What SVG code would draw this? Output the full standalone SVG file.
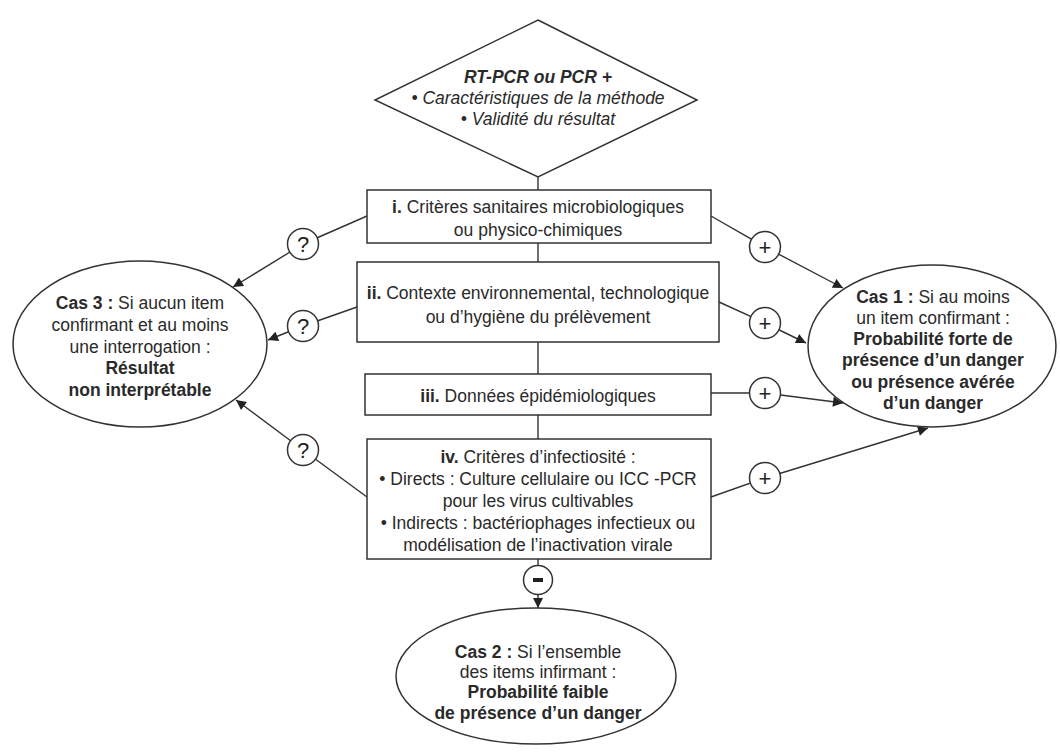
<svg xmlns="http://www.w3.org/2000/svg" width="1060" height="756" viewBox="0 0 1060 756">
<defs>
<marker id="arr" viewBox="0 0 10 10" refX="10" refY="5" markerWidth="11" markerHeight="10" markerUnits="userSpaceOnUse" orient="auto">
<path d="M0,0 L10,5 L0,10 z" fill="#222"/>
</marker>
<style>
.s{fill:#fff;stroke:#333;stroke-width:1.5}
.c{fill:none;stroke:#333;stroke-width:1.4}
.a{fill:none;stroke:#333;stroke-width:1.4;marker-end:url(#arr)}
text{font-family:"Liberation Sans",Arial,sans-serif;font-size:17.5px;fill:#2a2a2a;text-anchor:middle}
.b{font-weight:bold}
.i{font-style:italic}
.sym{font-size:22px;fill:#222}
</style>
</defs>
<rect width="1060" height="756" fill="#fff"/>
<g id="connectors">
<line class="c" x1="538" y1="177" x2="538" y2="190"/>
<line class="c" x1="538" y1="243" x2="538" y2="262"/>
<line class="c" x1="538" y1="342" x2="538" y2="374"/>
<line class="c" x1="538" y1="415" x2="538" y2="439"/>
<line class="c" x1="367" y1="216" x2="303" y2="244"/>
<line class="a" x1="303" y1="244" x2="233" y2="287"/>
<line class="c" x1="357" y1="307" x2="303" y2="326"/>
<line class="a" x1="303" y1="326" x2="268" y2="340"/>
<line class="c" x1="367" y1="497" x2="303" y2="450"/>
<line class="a" x1="303" y1="450" x2="236" y2="400"/>
<line class="c" x1="711" y1="216" x2="765" y2="247"/>
<line class="a" x1="765" y1="247" x2="843" y2="288"/>
<line class="c" x1="719" y1="302" x2="765" y2="323"/>
<line class="a" x1="765" y1="323" x2="806" y2="343"/>
<line class="c" x1="711" y1="393" x2="765" y2="393"/>
<line class="a" x1="765" y1="393" x2="843" y2="403"/>
<line class="c" x1="711" y1="497" x2="765" y2="478"/>
<line class="a" x1="765" y1="478" x2="928" y2="428"/>
<line class="a" x1="538" y1="559" x2="538" y2="608"/>
<g id="labels">
<circle class="s" cx="303" cy="244" r="15.5"/><text class="sym" x="303" y="252">?</text>
<circle class="s" cx="303" cy="326" r="15.5"/><text class="sym" x="303" y="334">?</text>
<circle class="s" cx="303" cy="450" r="15.5"/><text class="sym" x="303" y="458">?</text>
<circle class="s" cx="765" cy="247" r="15.5"/><text class="sym" x="765" y="255">+</text>
<circle class="s" cx="765" cy="323" r="15.5"/><text class="sym" x="765" y="331">+</text>
<circle class="s" cx="765" cy="393" r="15.5"/><text class="sym" x="765" y="401">+</text>
<circle class="s" cx="765" cy="478" r="15.5"/><text class="sym" x="765" y="486">+</text>
<circle class="s" cx="538" cy="580" r="14.5"/><rect x="533" y="578" width="10" height="4" fill="#222"/>
</g>
</g>
<g id="start">
<polygon class="s" points="538,20 697,100 538,177 375,100"/>
<text class="b i" x="538" y="83">RT-PCR ou PCR +</text>
<text class="i" x="538" y="104">• Caractéristiques de la méthode</text>
<text class="i" x="538" y="125">• Validité du résultat</text>
</g>
<g id="crit1">
<rect class="s" x="367" y="190" width="344" height="53"/>
<text x="538" y="213"><tspan class="b">i.</tspan> Critères sanitaires microbiologiques</text>
<text x="538" y="236">ou physico-chimiques</text>
</g>
<g id="crit2">
<rect class="s" x="357" y="262" width="362" height="80"/>
<text x="538" y="299"><tspan class="b">ii.</tspan> Contexte environnemental, technologique</text>
<text x="538" y="323">ou d’hygiène du prélèvement</text>
</g>
<g id="crit3">
<rect class="s" x="365" y="374" width="346" height="41"/>
<text x="538" y="402"><tspan class="b">iii.</tspan> Données épidémiologiques</text>
</g>
<g id="crit4">
<rect class="s" x="367" y="439" width="344" height="120"/>
<text x="538" y="463"><tspan class="b">iv.</tspan> Critères d’infectiosité :</text>
<text x="538" y="485">• Directs : Culture cellulaire ou ICC -PCR</text>
<text x="538" y="507">pour les virus cultivables</text>
<text x="538" y="529">• Indirects : bactériophages infectieux ou</text>
<text x="538" y="551">modélisation de l’inactivation virale</text>
</g>
<g id="cas3">
<ellipse class="s" cx="140" cy="344" rx="127" ry="83"/>
<text x="140" y="309"><tspan class="b">Cas 3 :</tspan> Si aucun item</text>
<text x="140" y="331">confirmant et au moins</text>
<text x="140" y="353">une interrogation :</text>
<text class="b" x="140" y="374">Résultat</text>
<text class="b" x="140" y="396">non interprétable</text>
</g>
<g id="cas1">
<ellipse class="s" cx="932" cy="346" rx="124" ry="81"/>
<text x="933" y="303"><tspan class="b">Cas 1 :</tspan> Si au moins</text>
<text x="933" y="324">un item confirmant :</text>
<text class="b" x="933" y="345">Probabilité forte de</text>
<text class="b" x="933" y="366">présence d’un danger</text>
<text class="b" x="933" y="388">ou présence avérée</text>
<text class="b" x="933" y="409">d’un danger</text>
</g>
<g id="cas2">
<ellipse class="s" cx="536" cy="676" rx="140" ry="68"/>
<text x="538" y="658"><tspan class="b">Cas 2 :</tspan> Si l’ensemble</text>
<text x="538" y="678">des items infirmant :</text>
<text class="b" x="538" y="698">Probabilité faible</text>
<text class="b" x="538" y="719">de présence d’un danger</text>
</g>
</svg>
